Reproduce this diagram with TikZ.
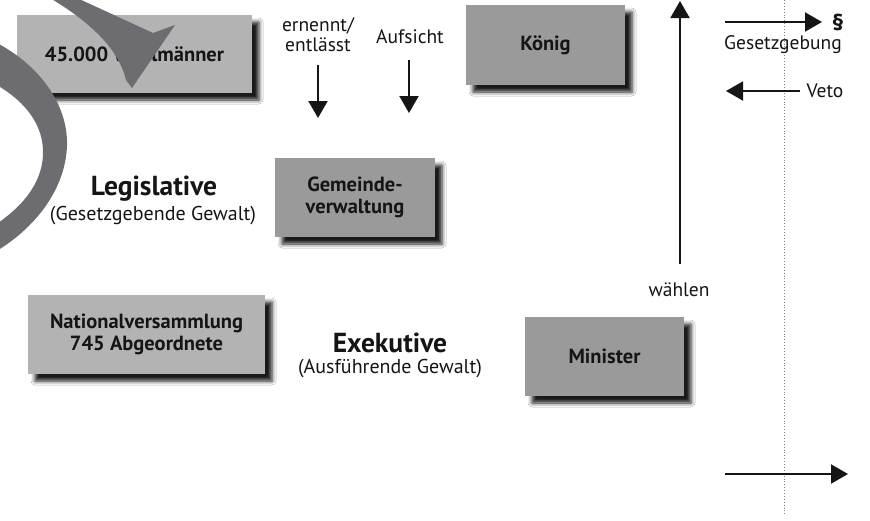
\documentclass[tikz,border=0pt]{standalone}
\usepackage{fontspec}
\setmainfont{PT Sans}
\usetikzlibrary{arrows.meta,shadows.blur}
\definecolor{boxlight}{HTML}{B3B3B3}
\definecolor{boxdark}{HTML}{9A9A9A}
\definecolor{swoosh}{HTML}{6D6D71}
\definecolor{ink}{HTML}{151515}
\begin{document}
\begin{tikzpicture}[x=1pt,y=-1pt,
  box/.style={fill=#1, inner sep=0pt, outer sep=0pt, align=center, text=ink,
    font=\bfseries\fontsize{20.5}{22}\selectfont,
    blur shadow={shadow xshift=7pt, shadow yshift=-7pt, shadow blur radius=4pt, shadow opacity=90}},
  lbl/.style={inner sep=0pt, text=ink, align=center, font=\fontsize{19.5}{20}\selectfont},
  head/.style={inner sep=0pt, text=ink, font=\bfseries\fontsize{27.5}{30}\selectfont},
  sub/.style={inner sep=0pt, text=ink, font=\fontsize{20}{22}\selectfont},
  arr/.style={draw=ink, line width=2pt, -{Triangle[length=17pt,width=19pt]}}]
\useasboundingbox (0,0) rectangle (870,520);
\fill[white] (0,0) rectangle (870,520);

% dotted separator
\coordinate (dtop) at (784,0);
\coordinate (dbot) at (784,515);
\draw[gray, dotted, line width=0.9pt] (dtop) -- (dbot);

% boxes
\node[box=boxlight, minimum width=235pt, minimum height=78pt] (wahl) at (134.5,54) {45.000 Wahlmänner};
\node[box=boxdark, minimum width=159pt, minimum height=80pt] (koenig) at (545.5,45) {König};
\node[box=boxdark, minimum width=160pt, minimum height=79pt] (gemeinde) at (355,197.5) {Gemeinde-\\verwaltung};
\node[box=boxlight, minimum width=237pt, minimum height=79pt] (nv) at (146.5,334.5) {Nationalversammlung\\745 Abgeordnete};
\node[box=boxdark, minimum width=159pt, minimum height=79pt] (minister) at (604.5,356.5) {Minister};

% headings
\node[head] (leg) at (154,189) {Legislative};
\node[sub] (legsub) at (153,216) {(Gesetzgebende Gewalt)};
\node[head] (exe) at (390,343) {Exekutive};
\node[sub] (exesub) at (390,369) {(Ausführende Gewalt)};

% labels
\node[lbl] (ern) at (318,35) {ernennt/\\entlässt};
\node[lbl] (aufs) at (410,37) {Aufsicht};
\node[lbl] (waehlen) at (679,290) {wählen};
\node[lbl] (gesetz) at (783,45) {Gesetzgebung};
\node[inner sep=0pt, text=ink, font=\bfseries\fontsize{23}{24}\selectfont] (para) at (838,22) {§};
\node[lbl] (veto) at (825,91) {Veto};

% arrows
\coordinate (a1s) at (318,65);  \coordinate (a1e) at (318,118);
\coordinate (a2s) at (409,60);  \coordinate (a2e) at (409,113);
\coordinate (a3s) at (680,264); \coordinate (a3e) at (680,1);
\coordinate (a4s) at (725,22);  \coordinate (a4e) at (822,22);
\coordinate (a5s) at (800,91);  \coordinate (a5e) at (726,91);
\coordinate (a6s) at (725,474); \coordinate (a6e) at (848,474);
\draw[arr] (a1s) -- (a1e);
\draw[arr] (a2s) -- (a2e);
\draw[arr] (a3s) -- (a3e);
\draw[arr] (a4s) -- (a4e);
\draw[arr] (a5s) -- (a5e);
\draw[arr] (a6s) -- (a6e);

% swoosh overlay
\fill[swoosh] (50,-2) -- (77,-2) -- (153,33) -- (175,25) -- (132,88) -- (126,80)
  .. controls (120,55) and (100,28) .. (50,-2) -- cycle;
\fill[swoosh] (-5,42) .. controls (40,65) and (68,105) .. (67,145)
  .. controls (66,185) and (40,225) .. (-5,252)
  -- (-5,225) .. controls (25,205) and (44,180) .. (43,150)
  .. controls (42,120) and (20,98) .. (-5,84) -- cycle;
\end{tikzpicture}
\end{document}
